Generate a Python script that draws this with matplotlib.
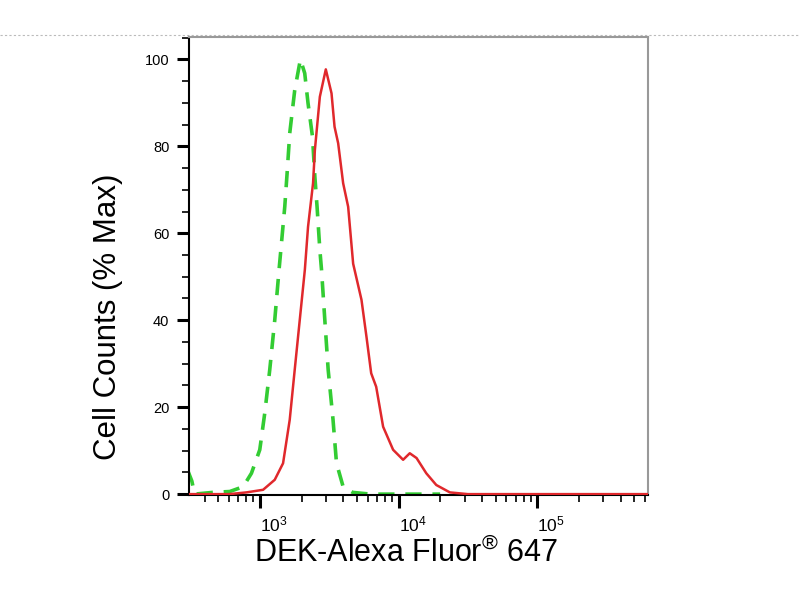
import numpy as np
import matplotlib
matplotlib.use('Agg')
from matplotlib import pyplot as plt
from matplotlib.lines import Line2D
from matplotlib.ticker import LogLocator, MultipleLocator, NullFormatter

plt.rcParams['font.family'] = ['Liberation Sans', 'DejaVu Sans']
plt.rcParams['mathtext.default'] = 'regular'

# DEK stained sample (red, solid)
red_x = [302, 603, 802, 1057, 1282, 1472, 1644, 1786, 1941, 2113, 2228, 2421, 2495,
         2710, 2992, 3289, 3459, 3673, 3990, 4335, 4710, 5408, 5875, 6353, 6902,
         7745, 9141, 10790, 12050, 13490, 15850, 18710, 23440, 31600, 631000]
red_y = [0, 0, 0.4, 1, 3.3, 7.1, 17.1, 28.6, 40, 51.6, 61.5, 71.5, 79.1,
         91.4, 97.7, 92.2, 84.5, 80.7, 71.5, 66.1, 53, 44.7, 36.2, 27.8, 24.7,
         15.5, 10.2, 7.9, 9.4, 8.3, 4.8, 2.1, 0.4, 0, 0]

# isotype control (green, dashed)
green_x = [302, 324, 339, 457, 608, 759, 871, 1000, 1086, 1180, 1282, 1377, 1514,
           1574, 1644, 1786, 1963, 2109, 2228, 2399, 2495, 2588, 2710, 2786, 2944,
           3112, 3373, 3573, 3990, 4677, 6310, 19950]
green_y = [5.5, 3, 0, 0.4, 0.6, 1.7, 4.8, 10.2, 18.6, 28.6, 40, 51.6, 66.1,
           73.8, 83, 92.9, 100, 96.8, 89.9, 82.2, 73, 66.1, 56.2, 51.6, 40,
           28.6, 17.1, 7.1, 1.7, 0.4, 0, 0]

fig = plt.figure(figsize=(8, 6), dpi=100)
ax = fig.add_axes([0.236, 0.175, 0.574, 0.763])

ax.plot(red_x, red_y, color='#e0282c', lw=1.8, zorder=3)
ax.plot(green_x, green_y, color='#33cc33', lw=2.6, ls=(0, (4.5, 3)), zorder=2)

ax.set_xscale('log')
ax.set_xlim(308, 628000)
ax.set_ylim(-0.2, 105.1)

ax.xaxis.set_minor_locator(LogLocator(base=10, subs=np.arange(2, 10), numticks=20))
ax.xaxis.set_minor_formatter(NullFormatter())
ax.set_xticks([1e3, 1e4, 1e5])
ax.set_xticklabels(['$10^3$', '$10^4$', '$10^5$'], ha='left')

ax.yaxis.set_major_locator(MultipleLocator(20))
ax.yaxis.set_minor_locator(MultipleLocator(5))

ax.tick_params(which='major', direction='out', length=9, width=2.2, labelsize=10.5, pad=5)
ax.tick_params(which='minor', direction='out', length=5, width=1.2)
ax.tick_params(axis='x', which='major', labelsize=12.5, pad=5)

for s in ['left', 'bottom']:
    ax.spines[s].set_color('black')
    ax.spines[s].set_linewidth(1.5)
for s in ['top', 'right']:
    ax.spines[s].set_color('#999999')
    ax.spines[s].set_linewidth(1.5)

ax.set_xlabel('DEK-Alexa Fluor$^{\u00ae}$ 647', fontsize=22, va='center')
ax.xaxis.set_label_coords(0.472, -0.127)
ax.set_ylabel('Cell Counts (% Max)', fontsize=22.5, va='center')
ax.yaxis.set_label_coords(-0.176, 0.389)

# dotted slide border line across the top
fig.add_artist(Line2D([0, 1], [1 - 35 / 600] * 2, transform=fig.transFigure,
                      color='#bbbbbb', lw=0.8, ls=(0, (2, 2)), zorder=0))

fig.savefig('out.png', dpi=100)
